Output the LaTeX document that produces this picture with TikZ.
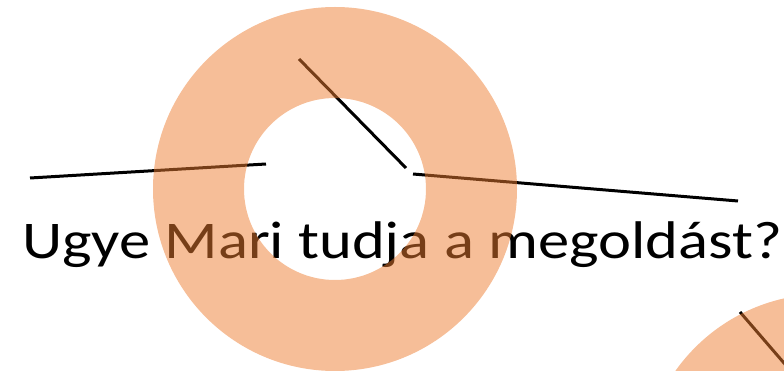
\documentclass[tikz,border=0pt]{standalone}
\usepackage{fontspec}
\setmainfont{Carlito}
\usepackage{xcolor}
\definecolor{ringorange}{HTML}{ED7D31}
\tikzset{
  stroke/.style={line width=3pt, black},
  ring/.style={fill=ringorange, fill opacity=0.5, even odd rule}
}

\begin{document}
\begin{tikzpicture}[x=1pt, y=-1pt]
    % --- fixed frame of the page ---
    \useasboundingbox (0,0) rectangle (784,371);

    % --- the sentence, set under the rings ---
    \node[anchor=base west, inner sep=0, xscale=1.18,
          font=\fontsize{53}{60}\selectfont]
      (sentence) at (22,259) {Ugye Mari tudja a megoldást?};

    % --- the strokes above the sentence ---
    \coordinate (l1a) at (30,178);  \coordinate (l1b) at (266,164);
    \coordinate (l2a) at (299,59);  \coordinate (l2b) at (406,168);
    \coordinate (l3a) at (413,174); \coordinate (l3b) at (738,201);
    \coordinate (l4a) at (740,312); \coordinate (l4b) at (790,370);
    \foreach \a/\b in {l1a/l1b, l2a/l2b, l3a/l3b, l4a/l4b}
      \draw[stroke] (\a) -- (\b);

    % --- two half-transparent rings on top of everything ---
    \coordinate (c1) at (335,189);
    \coordinate (c2) at (824,476);
    \fill[ring] (c1) circle[radius=182pt] (c1) circle[radius=91pt];
    \fill[ring] (c2) circle[radius=182pt] (c2) circle[radius=91pt];
  \end{tikzpicture}
\end{document}
